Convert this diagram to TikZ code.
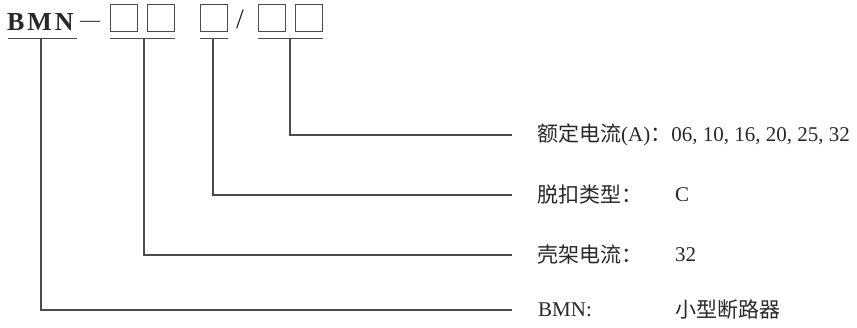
\documentclass[tikz,border=0pt]{standalone}
\usepackage{fontspec}
\setmainfont{Liberation Serif}
\newfontfamily\cjk{Noto Sans CJK SC}
\usetikzlibrary{positioning}
\definecolor{ink}{RGB}{40,40,40}
\definecolor{rul}{RGB}{75,75,75}

\begin{document}
\begin{tikzpicture}[x=1pt, y=-1pt,
    code/.style={font=\fontsize{26}{26}\selectfont\bfseries\addfontfeature{LetterSpace=11},
              text=ink, inner sep=0pt, anchor=base west},
    slot/.style={rectangle, draw=rul, line width=0.8pt, minimum size=27pt, inner sep=0pt},
    sep/.style={font=\fontsize{20}{20}\selectfont, text=ink, inner sep=0pt, anchor=base west},
    bar/.style={draw=rul, line width=1pt},
    lead/.style={draw=rul, line width=1.1pt},
    lab/.style={font=\fontsize{21}{22}\selectfont, text=ink, inner sep=0pt, anchor=west},
    val/.style={font=\fontsize{21}{22}\selectfont, text=ink, inner sep=0pt, anchor=west}]
  \useasboundingbox (0,0) rectangle (857,327);

  % ---------- (1) the model code ------------------------------------------
  \node[code] (bmn) at (7,30) {BMN};
  \node[sep] (dash) at (80,26) {—};
  \foreach \n/\x in {1/123.5,2/161,3/214,4/271.5,5/309} {
    \node[slot] (s\n) at (\x,17.5) {};
  }
  \node[sep, font=\fontsize{28}{28}\selectfont] (slash) at (236,28) {/};

  % ---------- (2) underlines and their taps --------------------------------
  \coordinate (tap1) at (41,38);
  \coordinate (tap2) at (144,38);
  \coordinate (tap3) at (213,38);
  \coordinate (tap4) at (290,38);
  \draw[bar] (8,38) -- (77,38);
  \draw[bar] (s1.south west |- tap2) -- (s2.south east |- tap2);
  \draw[bar] (s3.south west |- tap3) -- (s3.south east |- tap3);
  \draw[bar] (s4.south west |- tap4) -- (s5.south east |- tap4);

  % ---------- (3) the legend ----------------------------------------------
  \node[lab] (rate) at (537,135) {{\cjk 额定电流}(A){\cjk ：}06, 10, 16, 20, 25, 32};
  \node[lab] (trip) at (537,195) {\cjk 脱扣类型：};
  \node[val] (tripv) at (675,195) {C};
  \node[lab] (frame) at (537,255) {\cjk 壳架电流：};
  \node[val] (framev) at (675,255) {32};
  \node[lab] (kind) at (538,310) {BMN:};
  \node[val] (kindv) at (675,310) {\cjk 小型断路器};

  \coordinate (e4) at (512,135);
  \coordinate (e3) at (512,195);
  \coordinate (e2) at (512,255);
  \coordinate (e1) at (512,310);
  \draw[lead] (tap4) |- (e4);
  \draw[lead] (tap3) |- (e3);
  \draw[lead] (tap2) |- (e2);
  \draw[lead] (tap1) |- (e1);
\end{tikzpicture}
\end{document}
